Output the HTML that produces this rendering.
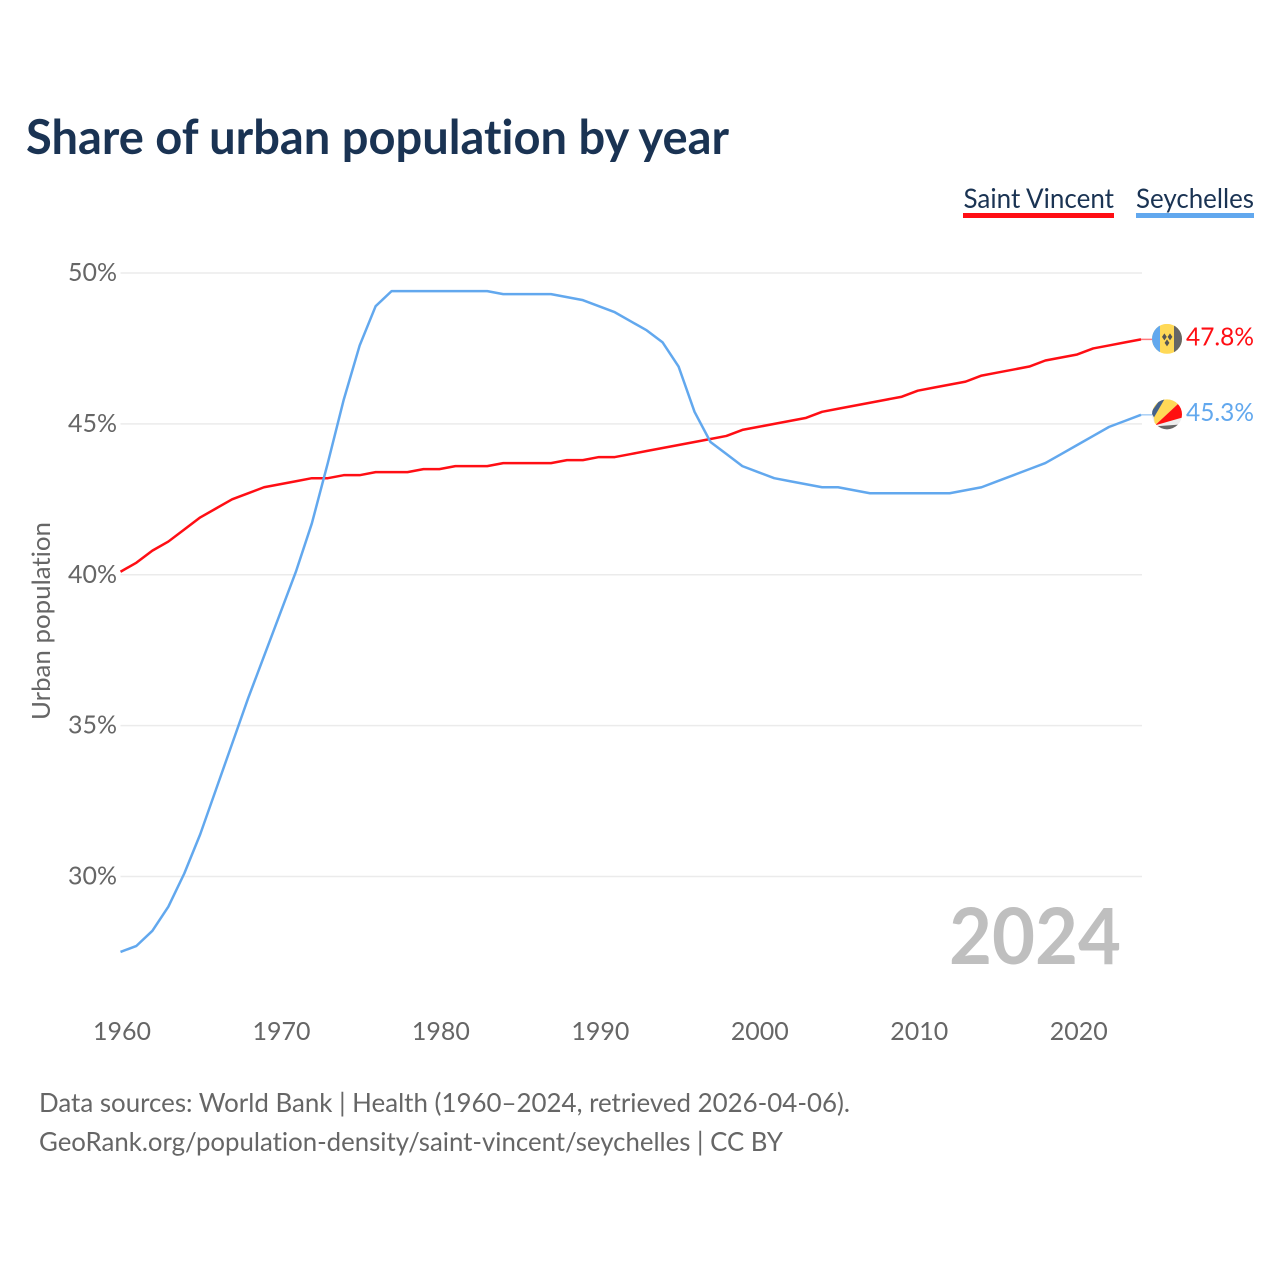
<!DOCTYPE html>
<html lang="en">
<head>
<meta charset="utf-8">
<title>Share of urban population by year</title>
<style>
html,body{margin:0;padding:0;background:#fff;width:1280px;height:1280px;overflow:hidden}
svg{display:block}
text{font-family:"Lato","Carlito","Liberation Sans",sans-serif;font-variant-ligatures:none}
.tick{font-size:25px;fill:#666}
.foot{font-size:26px;fill:#666}
</style>
</head>
<body>
<svg id="chart" width="1280" height="1280" viewBox="0 0 1280 1280" xmlns="http://www.w3.org/2000/svg">
  <defs>
    <clipPath id="clip-flag-a"><circle cx="0" cy="0" r="15"/></clipPath>
  </defs>
  <rect width="1280" height="1280" fill="#fff"/>
  <text x="26" y="154" font-size="48" font-weight="700" fill="#1a3353" textLength="703" lengthAdjust="spacingAndGlyphs">Share of urban population by year</text>

  <g>
    <text x="963.500" y="208" font-size="27" fill="#1a3353" textLength="150.500" lengthAdjust="spacingAndGlyphs">Saint Vincent</text>
    <rect x="963" y="213" width="151" height="5" fill="#ff0e14"/>
  </g>
  <g>
    <text x="1136" y="208" font-size="27" fill="#1a3353" textLength="118" lengthAdjust="spacingAndGlyphs">Seychelles</text>
    <rect x="1136" y="213" width="118" height="5" fill="#62a8ee"/>
  </g>

  <g id="grid"></g>
  <g id="yticks"></g>
  <g id="xticks"></g>
  <text transform="translate(50,621) rotate(-90)" text-anchor="middle" font-size="25" fill="#666" textLength="198" lengthAdjust="spacingAndGlyphs">Urban population</text>

  <text x="1121" y="964" text-anchor="end" font-size="78" font-weight="700" fill="#bfbfbf" textLength="172" lengthAdjust="spacingAndGlyphs">2024</text>
  <g id="series"></g>

  <g id="flag-sv" clip-path="url(#clip-flag-a)">
    <rect x="-15" y="-15" width="30" height="30" fill="#ffd957"/>
    <rect x="-15" y="-15" width="8" height="30" fill="#62a8ee"/>
    <rect x="7" y="-15" width="8" height="30" fill="#666"/>
    <path d="M-5-2l2.400-3.500 2.400 3.500-2.400 3.500zM0.600-2l2.400-3.500 2.400 3.500-2.400 3.500zM-2.400 4l2.400-3.500 2.400 3.500-2.400 3.500z" fill="#555"/>
  </g>
  <g id="flag-sc" clip-path="url(#clip-flag-a)">
    <rect x="-16" y="-16" width="32" height="32" fill="#eee"/>
    <path d="M-12 11L-16-16L16-16L16-15Z" fill="#ffd957"/>
    <path d="M-13 3L-16-2L-6-16L-2-16Z" fill="#44618a"/>
    <path d="M-12 11L16-15L16 3Z" fill="#ff1010"/>
    <path d="M-12 12L16 10L16 16L-12 16Z" fill="#666"/>
  </g>

  <text id="label-sv" x="1254" y="346" text-anchor="end" font-size="25.500" fill="#ff0e14" textLength="68" lengthAdjust="spacingAndGlyphs">47.8%</text>
  <text id="label-sc" x="1254" y="421" text-anchor="end" font-size="25.500" fill="#62a8ee" textLength="68" lengthAdjust="spacingAndGlyphs">45.3%</text>

  <text class="foot" x="39" y="1112" textLength="811" lengthAdjust="spacingAndGlyphs">Data sources: World Bank | Health (1960–2024, retrieved 2026-04-06).</text>
  <text class="foot" x="39" y="1151" textLength="744" lengthAdjust="spacingAndGlyphs">GeoRank.org/population-density/saint-vincent/seychelles | CC BY</text>
</svg>
<script>
var years = [1960,1961,1962,1963,1964,1965,1966,1967,1968,1969,1970,1971,1972,1973,1974,1975,1976,1977,1978,1979,1980,1981,1982,1983,1984,1985,1986,1987,1988,1989,1990,1991,1992,1993,1994,1995,1996,1997,1998,1999,2000,2001,2002,2003,2004,2005,2006,2007,2008,2009,2010,2011,2012,2013,2014,2015,2016,2017,2018,2019,2020,2021,2022,2023,2024];
var saintVincent = [40.1,40.4,40.8,41.1,41.5,41.9,42.2,42.5,42.7,42.9,43.0,43.1,43.2,43.2,43.3,43.3,43.4,43.4,43.4,43.5,43.5,43.6,43.6,43.6,43.7,43.7,43.7,43.7,43.8,43.8,43.9,43.9,44.0,44.1,44.2,44.3,44.4,44.5,44.6,44.8,44.9,45.0,45.1,45.2,45.4,45.5,45.6,45.7,45.8,45.9,46.1,46.2,46.3,46.4,46.6,46.7,46.8,46.9,47.1,47.2,47.3,47.5,47.6,47.7,47.8];
var seychelles = [27.5,27.7,28.2,29.0,30.1,31.4,32.9,34.4,35.9,37.3,38.7,40.1,41.7,43.7,45.8,47.6,48.9,49.4,49.4,49.4,49.4,49.4,49.4,49.4,49.3,49.3,49.3,49.3,49.2,49.1,48.9,48.7,48.4,48.1,47.7,46.9,45.4,44.4,44.0,43.6,43.4,43.2,43.1,43.0,42.9,42.9,42.8,42.7,42.7,42.7,42.7,42.7,42.7,42.8,42.9,43.1,43.3,43.5,43.7,44.0,44.3,44.6,44.9,45.1,45.3];
var yTickValues = [30,35,40,45,50];
var yTickLabels = ["30%","35%","40%","45%","50%"];
var xTickValues = [1960,1970,1980,1990,2000,2010,2020];
var xTickLabels = ["1960","1970","1980","1990","2000","2010","2020"];

var NS = 'http://www.w3.org/2000/svg';
function xScale(year){ return 120.5 + (year - 1960) * (1141 - 120.5) / 64; }
function yScale(value){ return 273 + (50 - value) * (876.5 - 273) / 20; }
function make(tag, parent, attrs){
  var el = document.createElementNS(NS, tag);
  for (var k in attrs) el.setAttribute(k, attrs[k]);
  parent.appendChild(el);
  return el;
}

var gridGroup = document.getElementById('grid');
var yGroup = document.getElementById('yticks');
yTickValues.forEach(function(v, i){
  var line = make('line', gridGroup, {x1:120.5, x2:1142, y1:yScale(v), y2:yScale(v), stroke:'#ebebeb', 'stroke-width':1.5});
  
  
  var label = make('text', yGroup, {x:117, y:yScale(v) + 8, 'text-anchor':'end', 'class':'tick', textLength:49, lengthAdjust:'spacingAndGlyphs'});
  
  
  label.textContent = yTickLabels[i];
});

var xGroup = document.getElementById('xticks');
xTickValues.forEach(function(v, i){
  var label = make('text', xGroup, {x:xScale(v) + 1.5, y:1040, 'text-anchor':'middle', 'class':'tick', textLength:58, lengthAdjust:'spacingAndGlyphs'});
  
  
  label.textContent = xTickLabels[i];
});

function drawSeries(values, color, name, flagId, labelId, labelOffset){
  var seriesGroup = document.getElementById('series');
  var last = values.length - 1;
  var pts = values.map(function(v, i){ return xScale(years[i]).toFixed(2) + ',' + yScale(v).toFixed(2); }).join(' ');
  var endX = xScale(years[last]);
  var endY = yScale(values[last]);
  var connector = make('line', seriesGroup, {x1:endX, y1:endY, x2:endX + 12, y2:endY, stroke:color, 'stroke-width':1.5, opacity:0.55});
  
  
  var line = make('polyline', seriesGroup, {points:pts, fill:'none', stroke:color, 'stroke-width':2.5, 'stroke-linejoin':'round'});
  
  
  document.getElementById(flagId).setAttribute('transform', 'translate(' + (endX + 26) + ',' + (endY - 0.5) + ')');
  var endLabel = document.getElementById(labelId);
  endLabel.setAttribute('y', endY + labelOffset);
  endLabel.textContent = values[last].toFixed(1) + '%';
}
drawSeries(saintVincent, '#ff0e14', 'saint-vincent', 'flag-sv', 'label-sv', 6);
drawSeries(seychelles, '#62a8ee', 'seychelles', 'flag-sc', 'label-sc', 6);
</script>
</body>
</html>
